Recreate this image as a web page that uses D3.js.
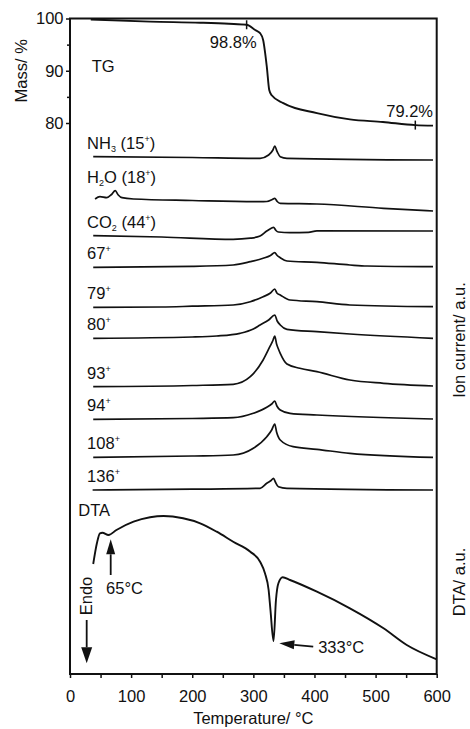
<!DOCTYPE html>
<html>
<head>
<meta charset="utf-8">
<script src="https://cdn.jsdelivr.net/npm/d3@7"></script>
<style>
  body { margin: 0; background: #fff; }
  svg text { font-family: "Liberation Sans", Arial, sans-serif; fill: #111; }
</style>
</head>
<body>
<svg id="chart" width="470" height="729"></svg>
<script>
// TG curve (temperature °C, mass %)
const tgTemp = [34, 131, 213, 260, 289, 303, 311, 316, 322, 326, 330, 349, 404, 458, 512, 565, 594];
const tgMass = [99.8, 99.4, 99.2, 99.0, 98.8, 97.8, 97.2, 95.9, 90.8, 86.3, 85.3, 83.8, 81.9, 80.7, 80.2, 79.6, 79.5];

// MS ion currents, [temperature, a.u.] (already stacked)
const nh3 = [[38, 51.73], [200, 51.65], [311, 51.57], [325, 51.9], [332, 52.4], [335, 52.8], [339, 52.23], [344, 51.73], [355, 51.57], [594, 51.4]];
const h2o = [[41, 47.5], [49, 47.73], [60, 47.63], [68, 47.95], [74, 48.33], [79, 47.9], [85, 47.63], [104, 47.5], [200, 47.35], [311, 47.23], [322, 47.25], [331, 47.45], [335, 47.57], [339, 47.25], [344, 47.07], [404, 47.0], [513, 46.57], [594, 46.3]];
const co2 = [[38, 43.83], [150, 43.7], [267, 43.47], [295, 43.58], [311, 43.8], [322, 44.3], [330, 44.6], [333, 44.67], [337, 44.35], [341, 44.2], [360, 44.13], [390, 44.17], [404, 44.31], [594, 44.3]];
const m67 = [[38, 40.67], [200, 40.76], [267, 40.9], [295, 41.23], [316, 41.57], [328, 41.85], [335, 42.13], [339, 41.85], [344, 41.63], [355, 41.3], [404, 41.17], [458, 40.9], [486, 40.8], [594, 40.73]];
const m79 = [[38, 36.67], [150, 36.7], [200, 36.78], [267, 36.9], [295, 37.23], [316, 37.73], [328, 38.1], [335, 38.5], [338.5, 38.1], [344, 37.9], [360, 37.4], [404, 37.23], [458, 36.9], [594, 36.73]];
const m80 = [[38, 33.57], [200, 33.7], [240, 33.8], [278, 34.07], [300, 34.5], [311, 34.9], [325, 35.4], [335, 35.9], [339, 35.3], [344, 34.9], [355, 34.47], [404, 34.23], [458, 34.0], [594, 33.57]];
const m93 = [[38, 28.73], [200, 28.85], [267, 28.97], [295, 29.73], [316, 31.4], [327, 32.73], [332, 33.35], [335, 33.8], [338, 33.0], [341, 32.5], [344, 32.07], [355, 31.0], [376, 30.57], [404, 30.23], [458, 29.4], [513, 29.07], [594, 28.8]];
const m94 = [[38, 25.47], [200, 25.55], [267, 25.63], [300, 26.07], [322, 26.67], [330, 27.0], [335, 27.3], [338.5, 26.8], [344, 26.4], [360, 26.07], [404, 25.9], [594, 25.5]];
const m108 = [[38, 21.67], [200, 21.8], [267, 21.9], [300, 22.57], [322, 23.73], [330, 24.4], [335, 25.0], [338, 24.2], [344, 23.4], [365, 22.73], [404, 22.47], [458, 22.07], [594, 21.67]];
const m136 = [[37, 18.4], [200, 18.48], [311, 18.57], [322, 19.07], [329, 19.35], [333, 19.57], [336, 19.2], [341, 18.73], [355, 18.57], [594, 18.4]];

const ionSeries = [nh3, h2o, co2, m67, m79, m80, m93, m94, m108, m136];
// "_" = subscript, "^" = superscript
const ionLabels = ["NH_3 (15^+)", "H_2O (18^+)", "CO_2 (44^+)", "67^+", "79^+", "80^+", "93^+", "94^+", "108^+", "136^+"];

// DTA curve [temperature, a.u.]
const dta = [[38, 11.0], [44, 13.07], [49, 14.07], [53, 14.13], [63, 13.9], [76, 14.4], [104, 15.23], [131, 15.67], [153, 15.8], [185, 15.57], [213, 15.07], [240, 14.23], [267, 13.23], [295, 12.23], [311, 11.23], [319, 10.07], [325, 8.4], [328, 6.4], [333, 3.3], [337, 7.4], [341, 9.07], [348, 9.67], [360, 9.4], [404, 8.23], [458, 6.57], [513, 4.57], [551, 2.9], [600, 1.47]];

// ticks
const xMajor = [0, 100, 200, 300, 400, 500, 600];
const xMinor = [50, 150, 250, 350, 450, 550];
const massMajor = [80, 90, 100];
const massMinor = [85, 95];

// TG step marks
const tgMarkTemp = [289, 565];
const tgMarkMass = [98.8, 79.6];
const tgMarkText = ["98.8%", "79.2%"];

const svg = d3.select("#chart");
const fs = 16.5;

// scales
const x = d3.scaleLinear().domain([0, 600]).range([70, 436.7]);
const yMass = d3.scaleLinear().domain([80, 100]).range([123, 18.5]);
const yAU = d3.scaleLinear().domain([0, 65.55]).range([674, 18.5]);

const line = d3.line().x(d => x(d[0])).y(d => yAU(d[1])).curve(d3.curveMonotoneX);

// frame
svg.append("rect")
  .attr("x", x(0)).attr("y", yAU(65.55))
  .attr("width", x(600) - x(0)).attr("height", yAU(0) - yAU(65.55))
  .attr("fill", "none").attr("stroke", "#111").attr("stroke-width", 2);

// bottom axis
const gx = svg.append("g").attr("transform", `translate(0,${yAU(0)})`);
gx.call(d3.axisBottom(x).tickValues(xMajor).tickSize(4).tickPadding(12).tickFormat(d3.format("d")));
gx.append("g").call(d3.axisBottom(x).tickValues(xMinor).tickSize(4).tickFormat(""));
gx.selectAll(".domain").remove();
gx.selectAll("line").attr("stroke", "#111").attr("stroke-width", 1.5);
gx.selectAll("text").style("font-size", fs + "px").attr("fill", "#111");

// left axis (mass)
const gy = svg.append("g").attr("transform", `translate(${x(0)},0)`);
gy.call(d3.axisLeft(yMass).tickValues(massMajor).tickSize(4).tickPadding(2.5));
gy.append("g").call(d3.axisLeft(yMass).tickValues(massMinor).tickSize(3).tickFormat(""));
gy.selectAll(".domain").remove();
gy.selectAll("line").attr("stroke", "#111").attr("stroke-width", 1.5);
gy.selectAll("text").style("font-size", fs + "px").attr("fill", "#111");

// axis titles
svg.append("text")
  .attr("transform", `translate(27,${yMass(90)}) rotate(-90)`)
  .attr("text-anchor", "middle").style("font-size", fs + "px").text("Mass/ %");
svg.append("text")
  .attr("x", (x(0) + x(600)) / 2).attr("y", 724)
  .attr("text-anchor", "middle").style("font-size", fs + "px").text("Temperature/ °C");
svg.append("text")
  .attr("transform", `translate(464.5,${yAU(33.4)}) rotate(-90)`)
  .attr("text-anchor", "middle").style("font-size", fs + "px").text("Ion current/ a.u.");
svg.append("text")
  .attr("transform", `translate(464.5,${yAU(9.2)}) rotate(-90)`)
  .attr("text-anchor", "middle").style("font-size", fs + "px").text("DTA/ a.u.");

// TG curve
svg.append("path")
  .datum(tgTemp.map((t, i) => [t, tgMass[i]]))
  .attr("d", d3.line().x(d => x(d[0])).y(d => yMass(d[1])).curve(d3.curveMonotoneX))
  .attr("fill", "none").attr("stroke", "#111").attr("stroke-width", 1.9);

svg.selectAll(".tgmark")
  .data(tgMarkTemp)
  .enter().append("line")
  .attr("x1", d => x(d)).attr("x2", d => x(d))
  .attr("y1", (d, i) => yMass(tgMarkMass[i]) - 4.5)
  .attr("y2", (d, i) => yMass(tgMarkMass[i]) + 4.5)
  .attr("stroke", "#111").attr("stroke-width", 1.5);

svg.append("text").attr("x", x(267)).attr("y", yMass(94.3))
  .attr("text-anchor", "middle").style("font-size", fs + "px").text(tgMarkText[0]);
svg.append("text").attr("x", x(594)).attr("y", yMass(81.2))
  .attr("text-anchor", "end").style("font-size", fs + "px").text(tgMarkText[1]);
svg.append("text").attr("x", x(35.5)).attr("y", yMass(89.8))
  .style("font-size", fs + "px").text("TG");

// ion current curves
svg.selectAll(".ion")
  .data(ionSeries)
  .enter().append("path")
  .attr("class", "ion")
  .attr("d", line)
  .attr("fill", "none").attr("stroke", "#111").attr("stroke-width", 1.7);

// labels with sub/superscripts: dy carried onto the next piece of text
function addLabel(str, px, py) {
  const t = svg.append("text").attr("x", px).attr("y", py).style("font-size", fs + "px");
  const parts = str.match(/[_^].|[^_^]+/g);
  let back = 0;
  parts.forEach(p => {
    if (p[0] === "_" || p[0] === "^") {
      const shift = p[0] === "_" ? 3 : -7;
      t.append("tspan").attr("dy", back + shift).style("font-size", "9px").text(p[1]);
      back = -shift;
    } else {
      t.append("tspan").attr("dy", back).text(p);
      back = 0;
    }
  });
}

ionSeries.forEach((s, i) => {
  const startMax = d3.max(s.filter(d => d[0] < 120), d => d[1]);
  addLabel(ionLabels[i], x(28), yAU(startMax) - 8);
});

// DTA curve
svg.append("path")
  .datum(dta)
  .attr("d", line)
  .attr("fill", "none").attr("stroke", "#111").attr("stroke-width", 1.9);

svg.append("text").attr("x", x(13.6)).attr("y", yAU(15.8))
  .style("font-size", fs + "px").text("DTA");

// arrows
const arrows = [
  { from: [27.3, 5.4], to: [27.3, 1.07], len: 16, w: 11 },
  { from: [66.6, 9.9], to: [66.6, 13.47], len: 15, w: 9 },
  { from: [398, 2.73], to: [342.5, 3.07], len: 15, w: 9 }
];
arrows.forEach(a => {
  const x1 = x(a.from[0]), y1 = yAU(a.from[1]);
  const x2 = x(a.to[0]), y2 = yAU(a.to[1]);
  const dx = x2 - x1, dy = y2 - y1, L = Math.hypot(dx, dy);
  const ux = dx / L, uy = dy / L;
  const bx = x2 - ux * a.len, by = y2 - uy * a.len;
  svg.append("line").attr("x1", x1).attr("y1", y1).attr("x2", bx).attr("y2", by)
    .attr("stroke", "#111").attr("stroke-width", 1.8);
  svg.append("polygon")
    .attr("points", [[x2, y2], [bx - uy * a.w / 2, by + ux * a.w / 2], [bx + uy * a.w / 2, by - ux * a.w / 2]].join(" "))
    .attr("fill", "#111");
});

svg.append("text").attr("x", x(59)).attr("y", yAU(7.97))
  .style("font-size", fs + "px").text("65°C");
svg.append("text").attr("x", x(406)).attr("y", yAU(2.07))
  .style("font-size", fs + "px").text("333°C");
svg.append("text")
  .attr("transform", `translate(${x(36)},${yAU(7.8)}) rotate(-90)`)
  .attr("text-anchor", "middle").style("font-size", fs + "px").text("Endo");
</script>
</body>
</html>
